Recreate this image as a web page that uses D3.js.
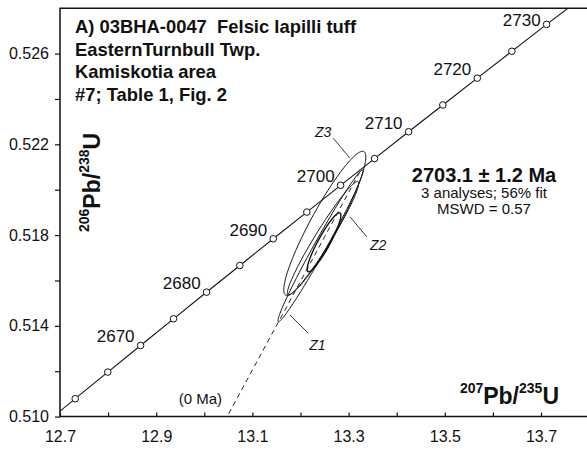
<!DOCTYPE html>
<html>
<head>
<meta charset="utf-8">
<script src="https://cdn.jsdelivr.net/npm/d3@7"></script>
<style>
  body { margin: 0; background: #fff; }
  svg { display: block; }
  text { font-family: "Liberation Sans", Arial, Helvetica, sans-serif; fill: #111; white-space: pre; }
</style>
</head>
<body>
<svg id="chart" width="587" height="449"></svg>
<script>
// Concordia curve: age (Ma) with 207Pb/235U and 206Pb/238U ratios
const concordiaAge = [2655, 2660, 2665, 2670, 2675, 2680, 2685, 2690, 2695, 2700, 2705, 2710, 2715, 2720, 2725, 2730, 2735];
const concordiaX = [12.66417, 12.73162, 12.79940, 12.86752, 12.93598, 13.00477, 13.07390, 13.14338, 13.21320, 13.28336, 13.35387, 13.42472, 13.49593, 13.56749, 13.63940, 13.71166, 13.78563];
const concordiaY = [0.509619, 0.510790, 0.511962, 0.513135, 0.514310, 0.515484, 0.516661, 0.517837, 0.519015, 0.520194, 0.521373, 0.522554, 0.523735, 0.524917, 0.526101, 0.527285, 0.528470];
const labelledAges = [2670, 2680, 2690, 2700, 2710, 2720, 2730];

// Zircon analyses: centre, 2-sigma errors and error correlation
const grainName = ["Z1", "Z2", "Z3", ""];
const grainX = [13.2416, 13.2468, 13.2505, 13.2489];
const grainY = [0.517528, 0.517858, 0.518520, 0.517682];
const grainSX = [0.08843, 0.07413, 0.08530, 0.03500];
const grainSY = [0.003345, 0.002504, 0.003175, 0.001299];
const grainRho = [0.9867, 0.9647, 0.9220, 0.9150];
const grainStroke = [1, 1, 1, 1.4];

// Grain label positions and leader lines (data units)
const tagText = ["Z3", "Z2", "Z1"];
const tagX = [13.2301, 13.3445, 13.2183];
const tagY = [0.522345, 0.517343, 0.512957];
const leaderX1 = [13.2682, 13.3029, 13.1782];
const leaderY1 = [0.522266, 0.518810, 0.514478];
const leaderX2 = [13.3029, 13.3376, 13.2162];
const leaderY2 = [0.521384, 0.517929, 0.513671];

// Discordia anchored at 0 Ma, upper intercept
const lowerIntercept = [0, 0];
const upperIntercept = [13.32705, 0.520930];
const zeroLabelPos = [13.0368, 0.510555];

// Axis ticks
const xTicks = [12.7, 12.8, 12.9, 13.0, 13.1, 13.2, 13.3, 13.4, 13.5, 13.6, 13.7];
const xTickLabels = ["12.7", "", "12.9", "", "13.1", "", "13.3", "", "13.5", "", "13.7"];
const yTicks = [0.510, 0.512, 0.514, 0.516, 0.518, 0.520, 0.522, 0.524, 0.526];
const yTickLabels = ["0.510", "", "0.514", "", "0.518", "", "0.522", "", "0.526"];

const titleLines = ["A) 03BHA-0047  Felsic lapilli tuff", "EasternTurnbull Twp.", "Kamiskotia area", "#7; Table 1, Fig. 2"];
const resultLines = ["2703.1 \u00b1 1.2 Ma", "3 analyses; 56% fit", "MSWD = 0.57"];

(function draw() {
  const svg = d3.select("#chart");
  const pL = 60, pR = 589.1, pT = 8.2, pB = 416.6;
  const x = d3.scaleLinear().domain([12.7, 13.8]).range([pL, pR]);
  const y = d3.scaleLinear().domain([0.510, 0.528]).range([pB, pT]);

  svg.append("defs").append("clipPath").attr("id", "plotArea")
    .append("rect").attr("x", pL).attr("y", pT).attr("width", pR - pL).attr("height", pB - pT);

  const plot = svg.append("g").attr("clip-path", "url(#plotArea)");

  // Discordia (dashed)
  plot.append("line")
    .attr("x1", x(lowerIntercept[0])).attr("y1", y(lowerIntercept[1]))
    .attr("x2", x(upperIntercept[0])).attr("y2", y(upperIntercept[1]))
    .attr("stroke", "#222").attr("stroke-width", 1).attr("stroke-dasharray", "5,4");

  // Error ellipses
  const ellipseLine = d3.line().curve(d3.curveLinearClosed);
  grainX.forEach((cx, i) => {
    const pts = d3.range(0, 360, 2).map(deg => {
      const t = deg * Math.PI / 180;
      const ex = cx + grainSX[i] * Math.cos(t);
      const ey = grainY[i] + grainSY[i] * (grainRho[i] * Math.cos(t) + Math.sqrt(1 - grainRho[i] * grainRho[i]) * Math.sin(t));
      return [x(ex), y(ey)];
    });
    plot.append("path").attr("d", ellipseLine(pts))
      .attr("fill", "none").attr("stroke", "#111").attr("stroke-width", grainStroke[i]);
  });

  // Concordia curve
  const concordia = concordiaAge.map((a, i) => ({ age: a, x: concordiaX[i], y: concordiaY[i] }));
  plot.append("path")
    .attr("d", d3.line().x(d => x(d.x)).y(d => y(d.y)).curve(d3.curveMonotoneX)(concordia))
    .attr("fill", "none").attr("stroke", "#111").attr("stroke-width", 1.1);

  const inside = concordia.filter(d => d.y >= 0.510 && d.y <= 0.528 && d.x >= 12.7);
  plot.selectAll("circle.age").data(inside).enter().append("circle")
    .attr("class", "age")
    .attr("cx", d => x(d.x)).attr("cy", d => y(d.y)).attr("r", 3.3)
    .attr("fill", "#fff").attr("stroke", "#111").attr("stroke-width", 1);

  // Age labels sit up-left of their marker, kept clear of the top frame
  svg.selectAll("text.age").data(inside.filter(d => labelledAges.includes(d.age))).enter().append("text")
    .attr("class", "age")
    .attr("x", d => x(d.x) - 6).attr("y", d => Math.max(y(d.y) - 3, pT + 18))
    .attr("text-anchor", "end").attr("font-size", 17)
    .text(d => d.age);

  // Grain labels with leaders
  tagText.forEach((t, i) => {
    svg.append("line")
      .attr("x1", x(leaderX1[i])).attr("y1", y(leaderY1[i]))
      .attr("x2", x(leaderX2[i])).attr("y2", y(leaderY2[i]))
      .attr("stroke", "#222").attr("stroke-width", 0.9);
    svg.append("text").attr("x", x(tagX[i])).attr("y", y(tagY[i]))
      .attr("font-size", 14).attr("font-style", "italic").text(t);
  });

  svg.append("text").attr("x", x(zeroLabelPos[0])).attr("y", y(zeroLabelPos[1]))
    .attr("text-anchor", "end").attr("font-size", 15).text("(0 Ma)");

  // Axes
  const xAxis = d3.axisBottom(x).tickValues(xTicks).tickSize(-4).tickPadding(14)
    .tickFormat((d, i) => xTickLabels[i]);
  const gx = svg.append("g").attr("transform", `translate(0,${pB})`).call(xAxis);
  gx.select(".domain").remove();
  gx.selectAll("text").attr("font-size", 16).attr("font-family", "Liberation Sans, Arial, sans-serif").attr("fill", "#111");
  gx.selectAll("line").attr("stroke", "#111").attr("stroke-width", 1.2);

  const yAxis = d3.axisLeft(y).tickValues(yTicks).tickSize(5).tickPadding(6)
    .tickFormat((d, i) => yTickLabels[i]);
  const gy = svg.append("g").attr("transform", `translate(${pL},0)`).call(yAxis);
  gy.select(".domain").remove();
  gy.selectAll("text").attr("font-size", 16).attr("font-family", "Liberation Sans, Arial, sans-serif").attr("fill", "#111");
  gy.selectAll("line").attr("stroke", "#111").attr("stroke-width", 1.2);

  // Frame
  svg.append("path")
    .attr("d", `M${pR},${pT}H${pL}V${pB}H${pR}`)
    .attr("fill", "none").attr("stroke", "#111").attr("stroke-width", 1.5);

  // Title block
  svg.selectAll("text.title").data(titleLines).enter().append("text")
    .attr("class", "title")
    .attr("x", 75).attr("y", (d, i) => 33.3 + i * 22.4)
    .attr("font-size", 18.4).attr("font-weight", "bold").text(d => d);

  // Result
  svg.selectAll("text.result").data(resultLines).enter().append("text")
    .attr("class", "result")
    .attr("x", 484).attr("y", (d, i) => [181.7, 198.3, 214.3][i])
    .attr("text-anchor", "middle")
    .attr("font-size", (d, i) => i === 0 ? 20 : 15)
    .attr("font-weight", (d, i) => i === 0 ? "bold" : "normal")
    .text(d => d);

  // Axis titles with superscript mass numbers
  function isotopeLabel(g, parts) {
    const t = g.append("text").attr("font-weight", "bold");
    parts.forEach(p => {
      t.append("tspan").attr("font-size", p.sup ? 14 : 23)
        .attr("dy", p.dy).text(p.s);
    });
    return t;
  }
  const xTitle = isotopeLabel(svg.append("g").attr("transform", "translate(559,404)"), [
    { s: "207", sup: true, dy: -11 }, { s: "Pb/", sup: false, dy: 11 },
    { s: "235", sup: true, dy: -11 }, { s: "U", sup: false, dy: 11 }
  ]);
  xTitle.attr("text-anchor", "end");

  isotopeLabel(svg.append("g").attr("transform", "translate(100,232) rotate(-90)"), [
    { s: "206", sup: true, dy: -11 }, { s: "Pb/", sup: false, dy: 11 },
    { s: "238", sup: true, dy: -11 }, { s: "U", sup: false, dy: 11 }
  ]);
})();
</script>
</body>
</html>
